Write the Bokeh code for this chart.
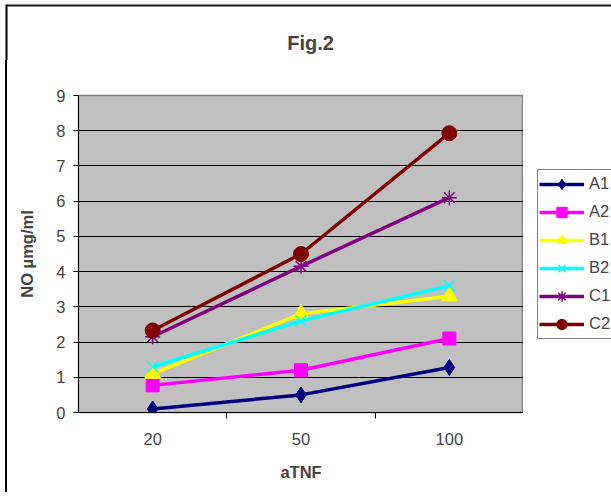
from bokeh.plotting import figure
from bokeh.layouts import row, column
from bokeh.models import FixedTicker, Legend, LegendItem, Range1d, Label, BoxAnnotation, Div
from bokeh.embed import file_html
from bokeh.resources import INLINE

categories = ["20", "50", "100"]
series_names = ["A1", "A2", "B1", "B2", "C1", "C2"]
A1 = [0.1, 0.5, 1.28]
A2 = [0.77, 1.2, 2.1]
B1 = [1.1, 2.8, 3.3]
B2 = [1.3, 2.6, 3.6]
C1 = [2.15, 4.15, 6.1]
C2 = [2.33, 4.5, 7.93]
y_ticks = [0, 1, 2, 3, 4, 5, 6, 7, 8, 9]
title_text = "Fig.2"

series = [A1, A2, B1, B2, C1, C2]
colors = ["#000080", "#FF00FF", "#FFFF00", "#00FFFF", "#800080", "#800000"]
markers = ["diamond", "square", "triangle", "x", "asterisk", "circle"]
msizes = [16, 13, 16, 16, 15, 15]
mwidths = [1, 1, 1, 1.5, 1.5, 1]

xs = [i + 0.5 for i in range(len(categories))]
FONT = "Liberation Sans"
FRAME_CLR = "#1a1a1a"
FS = "16.5px"
TOP_H = 60

# title strip (pixel-like ranges, y downward)
tf = figure(width=611, height=TOP_H, output_backend="svg", toolbar_location=None,
            x_range=Range1d(0, 611), y_range=Range1d(TOP_H, 0),
            x_axis_type=None, y_axis_type=None, min_border=0)
tf.title = None
tf.xgrid.visible = False
tf.ygrid.visible = False
tf.outline_line_color = None
tf.background_fill_color = "white"
tf.border_fill_color = "white"
tf.add_layout(Label(x=310, y=42, text=title_text, text_align="center", text_baseline="middle",
                    text_font=FONT, text_font_size="20px", text_font_style="bold"))
tf.add_layout(BoxAnnotation(left=6, right=611, top=4, bottom=6, fill_color=FRAME_CLR,
                            fill_alpha=1, line_color=None))
tf.add_layout(BoxAnnotation(left=5, right=7, top=4, bottom=TOP_H, fill_color="black",
                            fill_alpha=1, line_color=None))

ROW_H = 492 - TOP_H

# left strip carrying the outer frame line
lf = Div(text="", width=8, height=ROW_H, margin=0,
         styles={"background": "linear-gradient(to right, #ffffff 5px, #000000 5px, #000000 7px, #ffffff 7px)"})

# main plot
p = figure(frame_width=445, frame_height=317, output_backend="svg", toolbar_location=None,
           x_range=Range1d(0, len(categories)), y_range=Range1d(0, 9),
           min_border_left=70, min_border_right=0, min_border_top=95 - TOP_H, min_border_bottom=80)
p.title = None
p.background_fill_color = "#C0C0C0"
p.border_fill_color = "white"
p.outline_line_color = "#808080"
p.outline_line_width = 1.5

p.xgrid.visible = False
p.ygrid.grid_line_color = "black"
p.ygrid.grid_line_width = 1
p.ygrid.ticker = FixedTicker(ticks=y_ticks)

xa = p.xaxis[0]
xa.ticker = FixedTicker(ticks=xs, minor_ticks=[1, 2])
xa.major_label_overrides = {x: c for x, c in zip(xs, categories)}
xa.major_tick_line_color = None
xa.major_tick_out = 0
xa.major_tick_in = 0
xa.minor_tick_line_color = "black"
xa.minor_tick_out = 6
xa.minor_tick_in = 0
xa.axis_line_color = "black"
xa.major_label_text_font = FONT
xa.major_label_text_font_size = FS
xa.major_label_standoff = 14
xa.axis_label = "aTNF"
xa.axis_label_text_font = FONT
xa.axis_label_text_font_size = FS
xa.axis_label_text_font_style = "bold"
xa.axis_label_standoff = 15

ya = p.yaxis[0]
ya.ticker = FixedTicker(ticks=y_ticks)
ya.minor_tick_line_color = None
ya.major_tick_line_color = "black"
ya.major_tick_out = 5
ya.major_tick_in = 0
ya.axis_line_color = "black"
ya.major_label_text_font = FONT
ya.major_label_text_font_size = FS
ya.major_label_standoff = 8
ya.axis_label = "NO µmg/ml"
ya.axis_label_text_font = FONT
ya.axis_label_text_font_size = FS
ya.axis_label_text_font_style = "bold"
ya.axis_label_standoff = 17

# legend panel: a small figure (same top/bottom borders as the main plot);
# its copies of the series lie outside its x range, so only the legend shows
lp = figure(width=88, height=ROW_H, output_backend="svg", toolbar_location=None,
            x_range=Range1d(100, 101), y_range=Range1d(0, 9),
            x_axis_type=None, y_axis_type=None,
            min_border_left=14, min_border_right=0, min_border_top=95 - TOP_H, min_border_bottom=80)
lp.title = None
lp.xgrid.visible = False
lp.ygrid.visible = False
lp.outline_line_color = None
lp.background_fill_color = "white"
lp.border_fill_color = "white"

items = []
for name, vals, col, mk, ms, mw in zip(series_names, series, colors, markers, msizes, mwidths):
    p.line(xs, vals, line_color=col, line_width=3.5)
    p.scatter(xs, vals, marker=mk, size=ms, fill_color=col, line_color=col, line_width=mw)
    lln = lp.line(xs, vals, line_color=col, line_width=3.5)
    lsc = lp.scatter(xs, vals, marker=mk, size=ms, fill_color=col, line_color=col, line_width=mw)
    items.append(LegendItem(label=name, renderers=[lln, lsc]))

legend = Legend(items=items, location="left")
legend.border_line_color = "black"
legend.border_line_width = 1
legend.background_fill_color = "white"
legend.background_fill_alpha = 1
legend.label_text_font = FONT
legend.label_text_font_size = FS
legend.glyph_width = 45
legend.glyph_height = 26
legend.spacing = 2
legend.padding = 1
legend.margin = 0
legend.label_standoff = 5
lp.add_layout(legend)

layout = column(tf, row(lf, p, lp))
open("out.html", "w").write(file_html(layout, INLINE))
